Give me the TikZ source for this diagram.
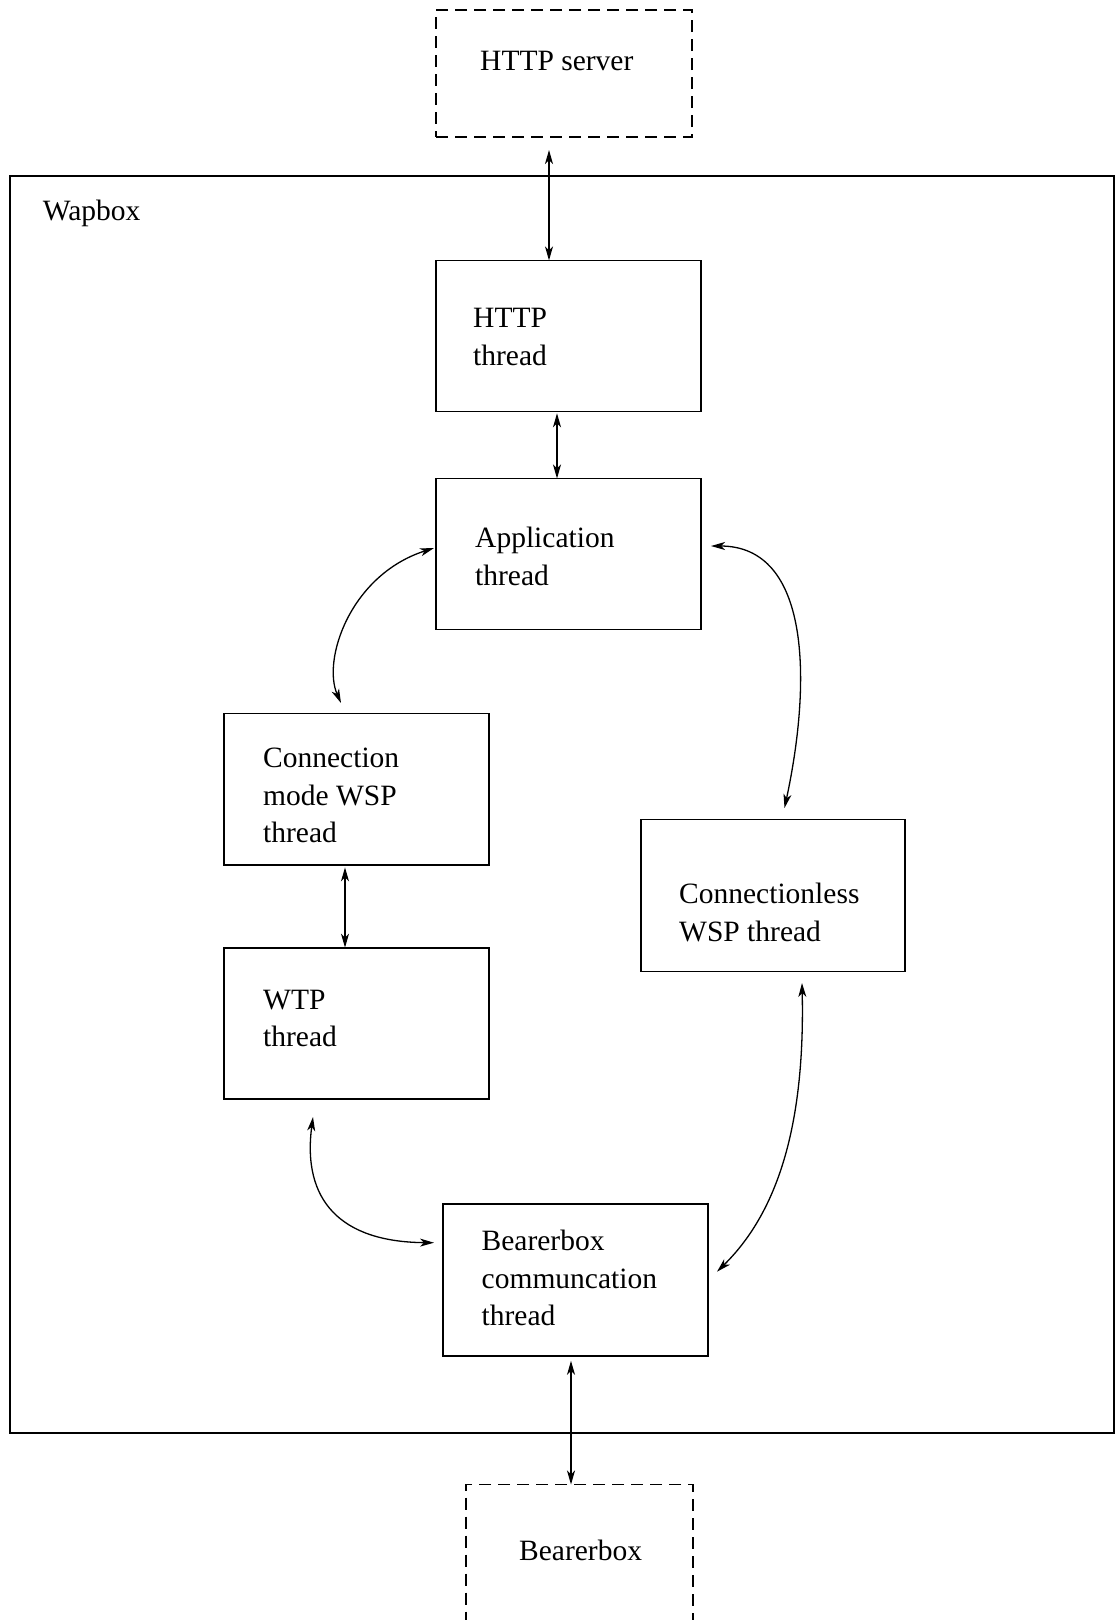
\documentclass[tikz,border=0pt]{standalone}
\usepackage{fontspec}
\setmainfont{Liberation Serif}
\usetikzlibrary{arrows.meta}
\begin{document}
\begin{tikzpicture}[x=1pt,y=-1pt,
  boxst/.style={draw,line width=1.8pt,anchor=north west,inner sep=0pt,outer sep=0pt,minimum width=264.6pt},
  dashbox/.style={draw,line width=1.8pt,dash pattern=on 12pt off 7pt,anchor=north west,inner sep=0pt,outer sep=0pt},
  lbl/.style={anchor=base west,inner sep=0pt,align=left,font=\fontsize{29.5}{37.5}\selectfont},
  conn/.style={line width=1.3pt,{Stealth[length=14pt,width=8pt,inset=4pt]}-{Stealth[length=14pt,width=8pt,inset=4pt]}}]
\useasboundingbox (0,0) rectangle (1115,1620);
% boxes
\node[dashbox,minimum width=256pt,minimum height=127pt] (srv) at (436,10) {};
\node[draw,line width=1.8pt,anchor=north west,inner sep=0pt,outer sep=0pt,minimum width=1104pt,minimum height=1257pt] (wap) at (10.3,175.7) {};
\node[boxst,minimum height=151pt] (http) at (436,260.4) {};
\node[boxst,minimum height=151pt] (app) at (436,478.5) {};
\node[boxst,minimum height=151.5pt] (cmode) at (224.2,713.5) {};
\node[boxst,minimum height=151pt] (wtp) at (224.2,947.6) {};
\node[boxst,minimum height=152pt] (cless) at (640.7,819.5) {};
\node[boxst,minimum height=151.8pt] (bcomm) at (443.3,1204) {};
\node[dashbox,minimum width=227pt,minimum height=160pt] (bbox) at (466,1484.5) {};
% labels (anchor = baseline of the last line)
\node[lbl] (tsrv) at (480,70) {HTTP server};
\node[lbl] (twap) at (42.7,220) {Wapbox};
\node[lbl] (thttp) at (473,365) {HTTP\\thread};
\node[lbl] (tapp) at (475,585) {Application\\thread};
\node[lbl] (tcmode) at (263,842.5) {Connection\\mode WSP\\thread};
\node[lbl] (tcless) at (679,941) {Connectionless\\WSP thread};
\node[lbl] (twtp) at (263,1046.5) {WTP\\thread};
\node[lbl] (tbcomm) at (481.5,1325.5) {Bearerbox\\communcation\\thread};
\node[lbl] (tbbox) at (519,1560.7) {Bearerbox};
% free connector ends
\coordinate (e1) at (549,150);
\coordinate (e2) at (557,413.3);
\coordinate (e3) at (434,548);
\coordinate (e4) at (341,703);
\coordinate (e5) at (711,546);
\coordinate (e6) at (784.5,808);
\coordinate (e7) at (345,867.4);
\coordinate (e8) at (313,1117);
\coordinate (e9) at (434,1242.7);
\coordinate (e10) at (802,983);
\coordinate (e11) at (717,1271.7);
\coordinate (e12) at (571,1360.8);
% connectors
\draw[conn] (e1) -- (e1 |- http.north);
\draw[conn] (e2) -- (e2 |- app.north);
\draw[conn] (e3) .. controls (350,575) and (322,660) .. (e4);
\draw[conn] (e5) .. controls (810,546) and (812,680) .. (e6);
\draw[conn] (e7) -- (e7 |- wtp.north);
\draw[conn] (e8) .. controls (302,1200) and (340,1242) .. (e9);
\draw[conn] (e10) .. controls (805,1120) and (780,1210) .. (e11);
\draw[conn] (e12) -- (e12 |- bbox.north);
\end{tikzpicture}
\end{document}
